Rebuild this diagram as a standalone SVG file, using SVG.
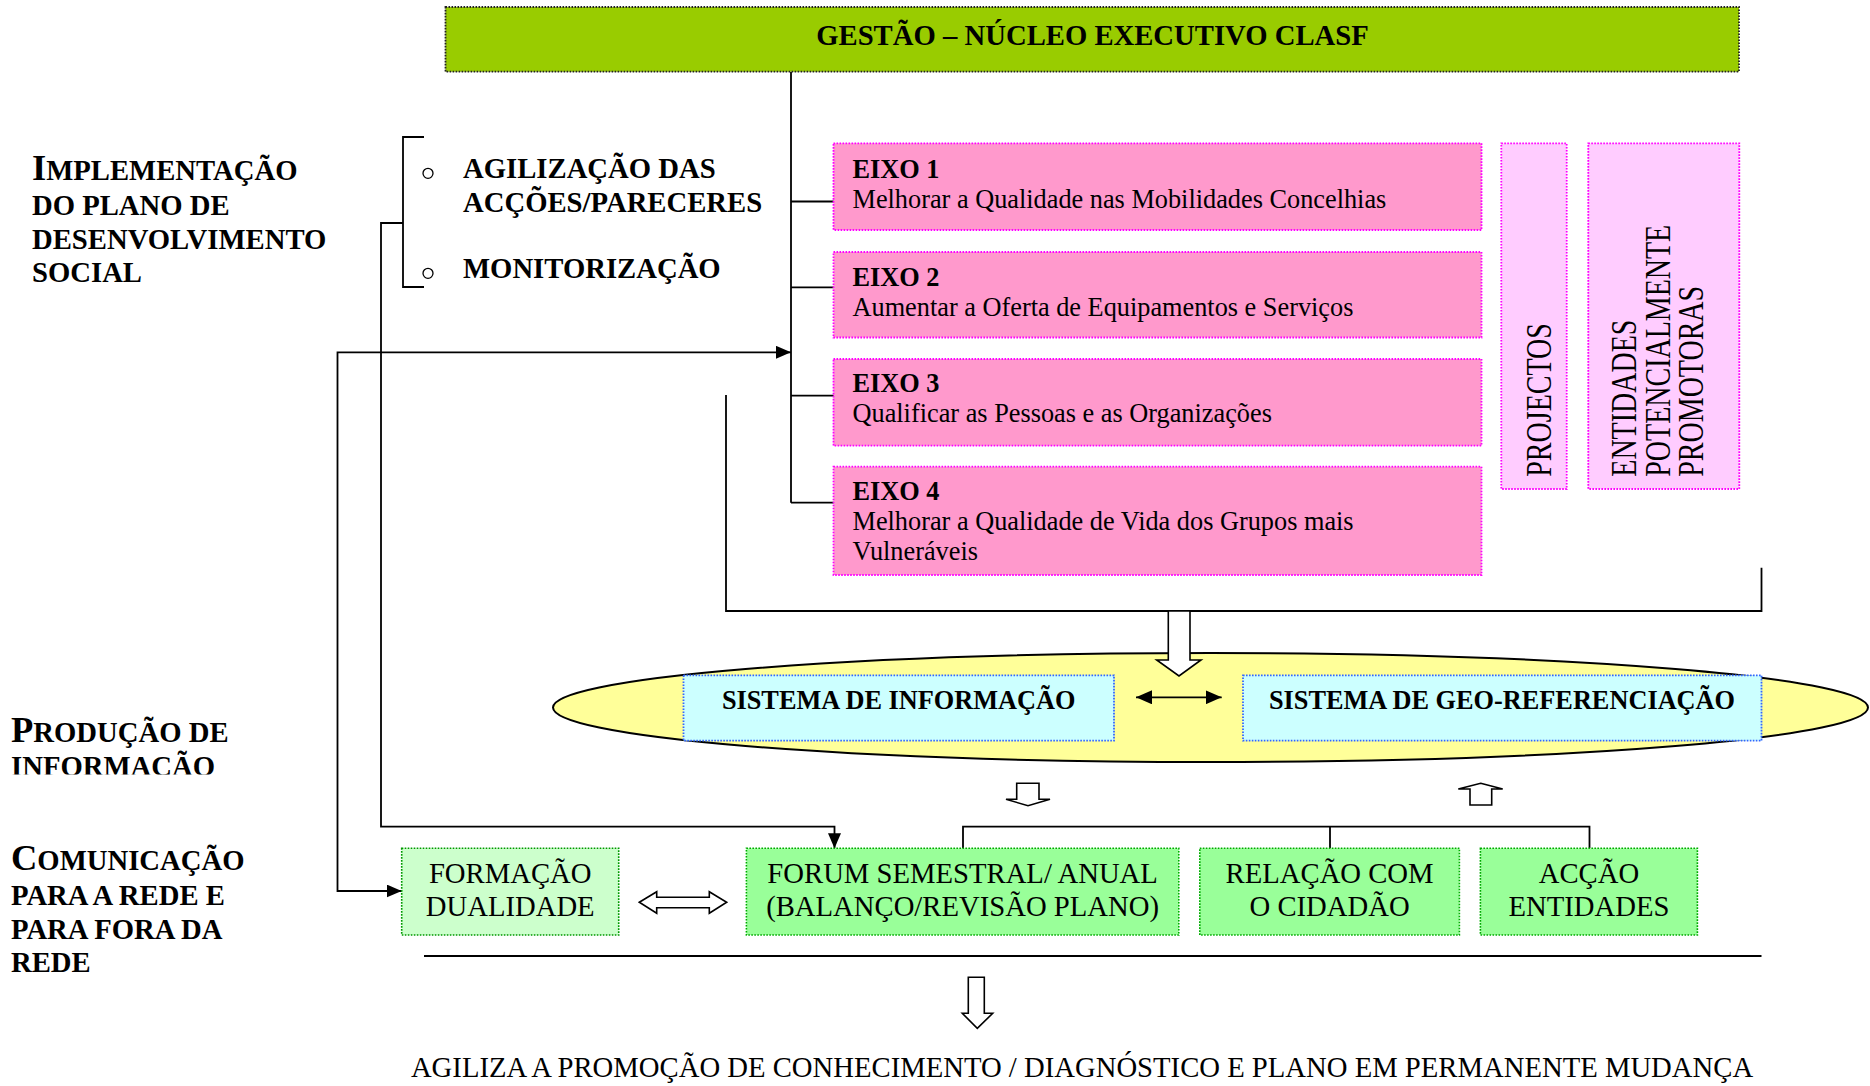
<svg xmlns="http://www.w3.org/2000/svg" width="1870" height="1086" viewBox="0 0 1870 1086">
<style>
  text { font-family: "Liberation Serif", "Times New Roman", serif; fill: #000; }
  .b { font-weight: bold; }
  .h29 { font-size: 28.7px; }
  .h26 { font-size: 26.3px; }
  .big { font-size: 36.5px; }
  .mid { text-anchor: middle; }
  .ln { fill: none; stroke: #000; stroke-width: 1.8; }
  .hollow { fill: #fff; stroke: #000; stroke-width: 1.6; stroke-linejoin: miter; }
  .gest { fill: #99CC00; stroke: #222; stroke-width: 1.8; stroke-dasharray: 1.6 1.4; }
  .eixo { fill: #FF99CC; stroke: #FF00FF; stroke-width: 1.8; stroke-dasharray: 1.6 1.4; }
  .lp { fill: #FFCCFF; stroke: #FF00FF; stroke-width: 1.8; stroke-dasharray: 1.6 1.4; }
  .cy { fill: #CCFFFF; stroke: #3366FF; stroke-width: 1.8; stroke-dasharray: 1.6 1.4; }
  .gr { fill: #99FF99; stroke: #00AA00; stroke-width: 1.6; stroke-dasharray: 1.6 1.4; }
  .lg { fill: #CCFFCC; stroke: #009900; stroke-width: 1.6; stroke-dasharray: 1.6 1.4; }
</style>
<defs>
  <marker id="ah" viewBox="0 0 15 13" refX="15" refY="6.5" markerWidth="15" markerHeight="13" markerUnits="userSpaceOnUse" orient="auto-start-reverse">
    <path d="M0,0 L15,6.5 L0,13 Z" fill="#000"/>
  </marker>
  <marker id="ah2" viewBox="0 0 16 14" refX="16" refY="7" markerWidth="16" markerHeight="14" markerUnits="userSpaceOnUse" orient="auto-start-reverse">
    <path d="M0,0 L16,7 L0,14 Z" fill="#000"/>
  </marker>
  <clipPath id="clipInfo">
    <rect x="0" y="740" width="300" height="34.5"/>
  </clipPath>
</defs>

<!-- Section labels -->
<g id="label-implementacao">
  <text class="b h29" x="32" y="180"><tspan class="big">I</tspan>MPLEMENTAÇÃO</text>
  <text class="b h29" x="32" y="215">DO PLANO DE</text>
  <text class="b h29" x="32" y="248.5">DESENVOLVIMENTO</text>
  <text class="b h29" x="32" y="282">SOCIAL</text>
</g>
<g id="label-producao">
  <text class="b h29" x="11" y="741.7"><tspan class="big">P</tspan>RODUÇÃO DE</text>
  <text class="b h29" x="11" y="775.5" clip-path="url(#clipInfo)">INFORMAÇÃO</text>
</g>
<g id="label-comunicacao">
  <text class="b h29" x="11" y="870"><tspan class="big">C</tspan>OMUNICAÇÃO</text>
  <text class="b h29" x="11" y="905">PARA A REDE E</text>
  <text class="b h29" x="11" y="938.5">PARA FORA DA</text>
  <text class="b h29" x="11" y="972">REDE</text>
</g>

<!-- Connectors -->
<g id="connectors">
  <!-- bracket of sub-items -->
  <path class="ln" d="M424,137 H403 V287 H424"/>
  <path class="ln" d="M403,223 H381 V826.7 H834.5 V848.3" marker-end="url(#ah)"/>
  <!-- trunk from header to eixos -->
  <path class="ln" d="M791,72 V502.7"/>
  <path class="ln" d="M791,201.5 H834"/>
  <path class="ln" d="M791,287.3 H834"/>
  <path class="ln" d="M791,395.7 H834"/>
  <path class="ln" d="M791,502.7 H834"/>
  <!-- feedback arrow from left to trunk, and to formacao -->
  <path class="ln" d="M401.7,891 H337.5 V352.3 H791" marker-start="url(#ah)" marker-end="url(#ah)"/>
  <!-- bracket under eixos -->
  <path class="ln" d="M726,395 V611 H1761.5 V567.7"/>
  <!-- bracket above forum/relacao/accao -->
  <path class="ln" d="M963,848.3 V826.7 H1589.5 V848.3"/>
  <path class="ln" d="M1330,826.7 V848.3"/>
  <!-- bottom line -->
  <path class="ln" d="M424,956 H1761.5"/>
</g>

<!-- Header -->
<g id="node-gestao">
  <rect class="gest" x="445.5" y="7" width="1293.5" height="64.7"/>
  <text class="b h29 mid" x="1092.5" y="45">GESTÃO – NÚCLEO EXECUTIVO CLASF</text>
</g>

<!-- Sub-items -->
<g id="node-agilizacao">
  <circle cx="428" cy="173.3" r="5" fill="none" stroke="#000" stroke-width="1.3"/>
  <text class="b h29" x="463" y="178.3">AGILIZAÇÃO DAS</text>
  <text class="b h29" x="463" y="211.7">ACÇÕES/PARECERES</text>
</g>
<g id="node-monitorizacao">
  <circle cx="428" cy="273.3" r="5" fill="none" stroke="#000" stroke-width="1.3"/>
  <text class="b h29" x="463" y="278.3">MONITORIZAÇÃO</text>
</g>

<!-- Eixos -->
<g id="node-eixo1">
  <rect class="eixo" x="833.5" y="143.3" width="648" height="86.7"/>
  <text class="h26" x="852.5" y="178.3"><tspan class="b">EIXO 1</tspan></text>
  <text class="h26" x="852.5" y="208">Melhorar a Qualidade nas Mobilidades Concelhias</text>
</g>
<g id="node-eixo2">
  <rect class="eixo" x="833.5" y="252" width="648" height="85.5"/>
  <text class="h26" x="852.5" y="285.5"><tspan class="b">EIXO 2</tspan></text>
  <text class="h26" x="852.5" y="315.5">Aumentar a Oferta de Equipamentos e Serviços</text>
</g>
<g id="node-eixo3">
  <rect class="eixo" x="833.5" y="359" width="648" height="86.7"/>
  <text class="h26" x="852.5" y="392"><tspan class="b">EIXO 3</tspan></text>
  <text class="h26" x="852.5" y="422">Qualificar as Pessoas e as Organizações</text>
</g>
<g id="node-eixo4">
  <rect class="eixo" x="833.5" y="466.7" width="648" height="108.3"/>
  <text class="h26" x="852.5" y="500"><tspan class="b">EIXO 4</tspan></text>
  <text class="h26" x="852.5" y="530">Melhorar a Qualidade de Vida dos Grupos mais</text>
  <text class="h26" x="852.5" y="560">Vulneráveis</text>
</g>

<!-- Side columns -->
<g id="node-projectos">
  <rect class="lp" x="1501.3" y="143.3" width="65.4" height="345.7"/>
  <text style="font-size:28px" transform="translate(1550.5,476.7) rotate(-90) scale(1,1.25)">PROJECTOS</text>
</g>
<g id="node-entidades">
  <rect class="lp" x="1588.3" y="143.3" width="151" height="345.7"/>
  <text style="font-size:28px" transform="translate(1636,476.7) rotate(-90) scale(1,1.25)">ENTIDADES</text>
  <text style="font-size:28px" transform="translate(1669.5,476.7) rotate(-90) scale(1,1.25)">POTENCIALMENTE</text>
  <text style="font-size:28px" transform="translate(1703,476.7) rotate(-90) scale(1,1.25)">PROMOTORAS</text>
</g>

<!-- Information production ellipse -->
<g id="node-producao">
  <ellipse cx="1210.5" cy="707.5" rx="657.5" ry="54.5" fill="#FFFF99" stroke="#000" stroke-width="2"/>
</g>
<g id="arrow-into-ellipse">
  <polygon class="hollow" points="1168.3,611 1190,611 1190,660 1201,660 1179,676 1156.7,660 1168.3,660"/>
</g>
<g id="node-sist-info">
  <rect class="cy" x="683.5" y="675.3" width="430.5" height="65.4"/>
  <text class="b h26 mid" x="898.7" y="709">SISTEMA DE INFORMAÇÃO</text>
</g>
<g id="node-sist-geo">
  <rect class="cy" x="1243" y="675.3" width="518.5" height="65.4"/>
  <text class="b h26 mid" x="1502" y="709">SISTEMA DE GEO-REFERENCIAÇÃO</text>
</g>
<g id="arrow-info-geo">
  <path class="ln" d="M1136,697.3 H1221.7" marker-start="url(#ah2)" marker-end="url(#ah2)"/>
</g>

<!-- Hollow arrows between levels -->
<g id="arrow-down-small">
  <polygon class="hollow" points="1016.7,783.3 1039,783.3 1039,799.3 1050,799.3 1028,805.7 1006,799.3 1016.7,799.3"/>
</g>
<g id="arrow-up-small">
  <polygon class="hollow" points="1480.7,783.3 1502.7,789 1491.7,789 1491.7,805 1470,805 1470,789 1458.3,789"/>
</g>

<!-- Communication row -->
<g id="node-formacao">
  <rect class="lg" x="401.7" y="848.3" width="217" height="86.7"/>
  <text class="h29 mid" x="510.2" y="883.3">FORMAÇÃO</text>
  <text class="h29 mid" x="510.2" y="916">DUALIDADE</text>
</g>
<g id="arrow-formacao-forum">
  <polygon class="hollow" points="639.3,902.3 656.7,891.7 656.7,897.3 709.3,897.3 709.3,891.7 726.7,902.3 709.3,913.3 709.3,907.7 656.7,907.7 656.7,913.3"/>
</g>
<g id="node-forum">
  <rect class="gr" x="746.4" y="848.3" width="432.4" height="86.7"/>
  <text class="h29 mid" x="962.6" y="883.3">FORUM SEMESTRAL/ ANUAL</text>
  <text class="h29 mid" x="962.6" y="916">(BALANÇO/REVISÃO PLANO)</text>
</g>
<g id="node-relacao">
  <rect class="gr" x="1199.8" y="848.3" width="259.6" height="86.7"/>
  <text class="h29 mid" x="1329.6" y="883.3">RELAÇÃO COM</text>
  <text class="h29 mid" x="1329.6" y="916">O CIDADÃO</text>
</g>
<g id="node-accao">
  <rect class="gr" x="1480.4" y="848.3" width="217" height="86.7"/>
  <text class="h29 mid" x="1588.9" y="883.3">ACÇÃO</text>
  <text class="h29 mid" x="1588.9" y="916">ENTIDADES</text>
</g>

<!-- Result -->
<g id="arrow-result">
  <polygon class="hollow" points="968.3,977.3 984.3,977.3 984.3,1013.3 992.7,1013.3 977.3,1028.3 962.3,1013.3 968.3,1013.3"/>
</g>
<g id="node-resultado">
  <text class="h29 mid" x="1082" y="1077">AGILIZA A PROMOÇÃO DE CONHECIMENTO / DIAGNÓSTICO E PLANO EM PERMANENTE MUDANÇA</text>
</g>
</svg>
